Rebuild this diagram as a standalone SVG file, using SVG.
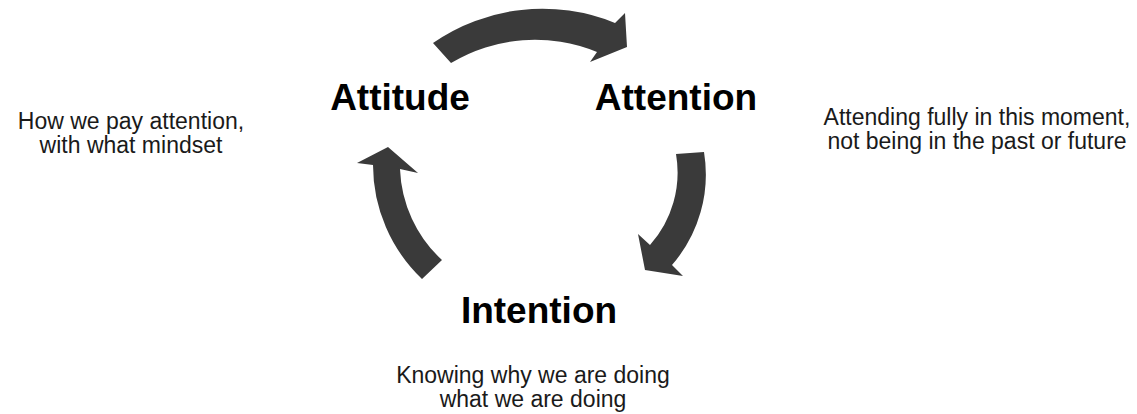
<svg xmlns="http://www.w3.org/2000/svg" width="1137" height="414" viewBox="0 0 1137 414">
  <style>
    .title { font-family: "Liberation Sans", Arial, sans-serif; font-weight: bold; font-size: 37px; fill: #000; text-anchor: middle; }
    .note { font-family: "Liberation Sans", Arial, sans-serif; font-size: 23px; fill: #1a1a1a; text-anchor: middle; }
    .arrow { fill: #3a3a3a; stroke: none; }
  </style>
  <rect width="1137" height="414" fill="#fff"/>

  <!-- curved block arrows forming the cycle -->
  <g id="connectors">
    <!-- Attitude to Attention -->
    <path class="arrow" d="M433,43 A192,192 0 0 1 615,23 L625,13 L627,47 L590,62 L597,52 A163,163 0 0 0 451,63 Z"/>
    <!-- Attention to Intention -->
    <path class="arrow" d="M704,152 A138,138 0 0 1 672,265 L683,276 L645,270 L638,234 L650,245 A109,109 0 0 0 676,154 Z"/>
    <!-- Intention to Attitude -->
    <path class="arrow" d="M422,279 A158,158 0 0 1 373,165 L357,163 L388,147 L418,173 L400,169 A130,130 0 0 0 442,260 Z"/>
  </g>

  <g id="attitude">
    <text class="title" x="400" y="110">Attitude</text>
    <text class="note" x="131" y="129">How we pay attention,</text>
    <text class="note" x="131" y="153">with what mindset</text>
  </g>

  <g id="attention">
    <text class="title" x="676" y="110">Attention</text>
    <text class="note" x="977" y="125">Attending fully in this moment,</text>
    <text class="note" x="977" y="149">not being in the past or future</text>
  </g>

  <g id="intention">
    <text class="title" x="539" y="323">Intention</text>
    <text class="note" x="533" y="383">Knowing why we are doing</text>
    <text class="note" x="533" y="407">what we are doing</text>
  </g>
</svg>
